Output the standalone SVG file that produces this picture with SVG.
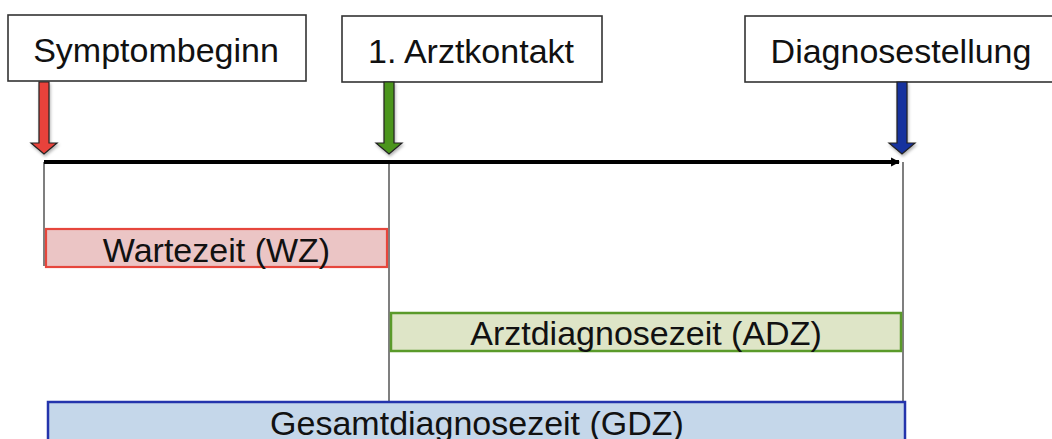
<svg xmlns="http://www.w3.org/2000/svg" width="1052" height="439" viewBox="0 0 1052 439">
  <style>
    .label { fill: #ffffff; stroke: #333333; stroke-width: 1.6; }
    .txt { font-family: "Liberation Sans", Arial, sans-serif; font-size: 34px; fill: #111111; text-anchor: middle; }
    .guide { stroke: #555555; stroke-width: 1.5; fill: none; }
    .marker-arrow { stroke: #222222; stroke-width: 1.2; stroke-linejoin: miter; }
  </style>
  <defs>
    <filter id="soft" x="-50%" y="-20%" width="200%" height="150%">
      <feDropShadow dx="1" dy="2" stdDeviation="1.5" flood-color="#000000" flood-opacity="0.3"/>
    </filter>
    <marker id="head" viewBox="0 0 10 10" refX="9" refY="5" markerWidth="2.2" markerHeight="2.6" orient="auto" markerUnits="strokeWidth">
      <path d="M0,0 L10,5 L0,10 z" fill="#000000"/>
    </marker>
    <!-- block arrow pointing down, tip at (0,0) -->
    <path id="block" d="M-5,-72 L5,-72 L5,-11 L13,-11 L0,0 L-13,-11 L-5,-11 z"/>
  </defs>

  <!-- guide lines and timeline -->
  <g id="connectors">
    <line class="guide" x1="44" y1="162" x2="44" y2="266"/>
    <line class="guide" x1="389" y1="162" x2="389" y2="402"/>
    <line class="guide" x1="903" y1="162" x2="903" y2="402"/>
    <line x1="44" y1="162" x2="899" y2="162" stroke="#000000" stroke-width="4" marker-end="url(#head)"/>
  </g>

  <!-- event: symptom onset -->
  <g id="node-symptombeginn">
    <rect class="label" x="8" y="15" width="298" height="66"/>
    <text class="txt" x="156" y="62">Symptombeginn</text>
    <use href="#block" x="44" y="154" fill="#e8423a" class="marker-arrow" filter="url(#soft)"/>
  </g>

  <!-- event: first physician contact -->
  <g id="node-arztkontakt">
    <rect class="label" x="342" y="16" width="260" height="66"/>
    <text class="txt" x="471" y="63">1. Arztkontakt</text>
    <use href="#block" x="389" y="154" fill="#4b951c" class="marker-arrow" filter="url(#soft)"/>
  </g>

  <!-- event: diagnosis -->
  <g id="node-diagnosestellung">
    <rect class="label" x="745" y="16" width="316" height="66"/>
    <text class="txt" x="901" y="63">Diagnosestellung</text>
    <use href="#block" x="902" y="154" fill="#13309e" class="marker-arrow" filter="url(#soft)"/>
  </g>

  <!-- intervals -->
  <g id="node-wz">
    <rect x="46" y="229" width="341" height="38" fill="#ebc5c5" stroke="#e6463c" stroke-width="2.2"/>
    <text class="txt" x="216.5" y="262">Wartezeit (WZ)</text>
  </g>

  <g id="node-adz">
    <rect x="391" y="313" width="510" height="38" fill="#dee5c7" stroke="#5a9a2a" stroke-width="2.5"/>
    <text class="txt" x="646" y="345">Arztdiagnosezeit (ADZ)</text>
  </g>

  <g id="node-gdz">
    <rect x="48" y="402" width="857" height="44" fill="#c5d7ea" stroke="#2434ac" stroke-width="2.5"/>
    <text class="txt" x="477" y="435">Gesamtdiagnosezeit (GDZ)</text>
  </g>
</svg>
